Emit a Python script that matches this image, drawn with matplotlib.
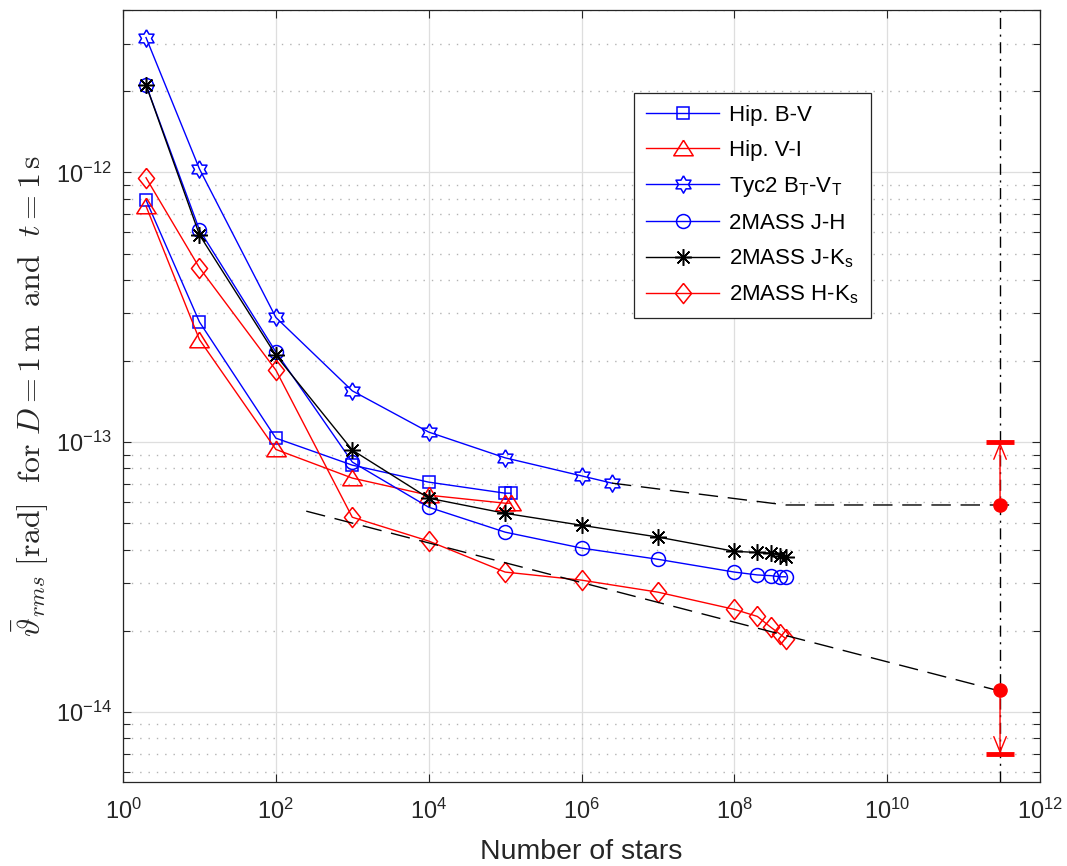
import numpy as np
import matplotlib
matplotlib.use("Agg")
import matplotlib.pyplot as plt
from matplotlib.ticker import (FixedLocator, LogFormatterSciNotation, LogLocator,
                               NullLocator, NullFormatter)

plt.rcParams["font.family"] = ["Liberation Sans", "DejaVu Sans"]
plt.rcParams["axes.unicode_minus"] = False

# --- data ---
n_hip = [2, 10, 100, 1e3, 1e4, 1e5, 1.18e5]
hip_bv = [7.9e-13, 2.79e-13, 1.035e-13, 8.22e-14, 7.11e-14, 6.47e-14, 6.47e-14]
hip_vi = [7.5e-13, 2.4e-13, 9.4e-14, 7.36e-14, 6.36e-14, 5.94e-14, 5.94e-14]

n_tyc = [2, 10, 100, 1e3, 1e4, 1e5, 1e6, 2.5e6]
tyc_bv = [3.16e-12, 1.03e-12, 2.9e-13, 1.55e-13, 1.09e-13, 8.75e-14, 7.5e-14, 7.05e-14]

n_2mass = [2, 10, 100, 1e3, 1e4, 1e5, 1e6, 1e7, 1e8, 2e8, 3e8, 4e8, 4.7e8]
mass_jh = [2.11e-12, 6.12e-13, 2.16e-13, 8.44e-14, 5.74e-14, 4.64e-14, 4.05e-14,
           3.68e-14, 3.3e-14, 3.22e-14, 3.2e-14, 3.17e-14, 3.17e-14]
mass_jk = [2.11e-12, 5.87e-13, 2.1e-13, 9.35e-14, 6.2e-14, 5.45e-14, 4.92e-14,
           4.45e-14, 3.94e-14, 3.9e-14, 3.88e-14, 3.8e-14, 3.75e-14]
mass_hk = [9.55e-13, 4.43e-13, 1.85e-13, 5.27e-14, 4.3e-14, 3.3e-14, 3.08e-14,
           2.78e-14, 2.4e-14, 2.26e-14, 2.06e-14, 1.94e-14, 1.87e-14]

# extrapolations to the galaxy
tyc_trend_n = [2.5e6, 4.7e8, 4e11]
tyc_trend_v = [7.05e-14, 5.85e-14, 5.85e-14]
mass_trend_n = [2.5e2, 4e11]
mass_trend_v = [5.55e-14, 1.17e-14]

n_galaxy = 3e11
galaxy_est = [5.85e-14, 1.21e-14]
galaxy_bound = [1e-13, 7e-15]

x_ticks = [1e0, 1e2, 1e4, 1e6, 1e8, 1e10, 1e12]
y_ticks = [1e-14, 1e-13, 1e-12]

# MATLAB-like markers
hexagram = [(np.cos(np.pi / 2 + k * np.pi / 6) * (1 if k % 2 == 0 else 0.577),
             np.sin(np.pi / 2 + k * np.pi / 6) * (1 if k % 2 == 0 else 0.577))
            for k in range(12)]
hexagram.append(hexagram[0])
triangle = [(0, 0.85), (-1, -0.75), (1, -0.75), (0, 0.85)]
diamond = [(0, 1), (0.8, 0), (0, -1), (-0.8, 0), (0, 1)]

fig = plt.figure(figsize=(10.67, 8.66), dpi=100)
ax = fig.add_axes([0.1153, 0.097, 0.8594, 0.8915])

common = dict(lw=1.0, mew=1.1, mfc="none")
ax.plot(n_hip, hip_bv, color="b", marker="s", ms=9, label="Hip. B-V", **common)
ax.plot(n_hip, hip_vi, color="r", marker=triangle, ms=14, label="Hip. V-I", **common)
ax.plot(n_tyc, tyc_bv, color="b", marker=hexagram, ms=12.5, label=r"Tyc2 B$_\mathregular{T}$-V$_\mathregular{T}$", **common)
ax.plot(n_2mass, mass_jh, color="b", marker="o", ms=10, label="2MASS J-H", **common)
ax.plot(n_2mass, mass_jk, color="k", marker=(8, 2, 0), ms=12, label=r"2MASS J-K$_\mathregular{s}$", **common)
ax.plot(n_2mass, mass_hk, color="r", marker=diamond, ms=14.5, label=r"2MASS H-K$_\mathregular{s}$", **common)

ax.plot(tyc_trend_n, tyc_trend_v, color="k", lw=1.0, dashes=(14, 7))
ax.plot(mass_trend_n, mass_trend_v, color="k", lw=1.0, dashes=(14, 7))
ax.axvline(n_galaxy, color="k", lw=1.0, dashes=(8, 4, 1.5, 4))

for est, bound in zip(galaxy_est, galaxy_bound):
    ax.annotate("", xy=(n_galaxy, bound), xytext=(n_galaxy, est),
                arrowprops=dict(arrowstyle="->,head_length=1.1,head_width=0.45",
                                color="r", lw=1.0, shrinkA=0, shrinkB=0))
ax.plot([n_galaxy] * 2, galaxy_bound, ls="none", marker="_", ms=19.5, mew=3.5, color="r")
ax.plot([n_galaxy] * 2, galaxy_est, ls="none", marker="o", ms=9.5, color="r")

ax.set_xscale("log")
ax.set_yscale("log")
ax.set_xlim(1, 1e12)
ax.set_ylim(5.5e-15, 4e-12)
ax.xaxis.set_major_locator(FixedLocator(x_ticks))
ax.xaxis.set_minor_locator(NullLocator())
ax.xaxis.set_major_formatter(LogFormatterSciNotation())
ax.yaxis.set_major_locator(FixedLocator(y_ticks))
ax.yaxis.set_minor_locator(LogLocator(base=10, subs=np.arange(2, 10)))
ax.yaxis.set_major_formatter(LogFormatterSciNotation())
ax.yaxis.set_minor_formatter(NullFormatter())

ax.grid(True, which="major", color="0.87", lw=0.9, ls="-")
ax.grid(True, which="minor", axis="y", color="0.7", lw=1.0, ls=(0, (1, 5)))
ax.set_axisbelow(True)

for sp in ax.spines.values():
    sp.set_color("0.15")
    sp.set_linewidth(0.9)
ax.tick_params(which="both", direction="in", top=True, right=True, colors="0.15",
               labelcolor="0.15", width=0.8)
ax.tick_params(which="major", length=6, labelsize=17, pad=8)
ax.tick_params(axis="x", which="major", pad=12)
ax.tick_params(which="minor", length=5)

ax.set_xlabel("Number of stars", fontsize=20.5, color="0.15", labelpad=11)
ax.set_ylabel(r"$\bar{\vartheta}_{rms}\ [\mathrm{rad}]\ \ \mathrm{for}\ D=1\,\mathrm{m}\ \ \mathrm{and}\ \ t=1\,\mathrm{s}$",
              fontsize=23, math_fontfamily="cm", color="0.15", labelpad=4)

leg = ax.legend(loc="upper left", bbox_to_anchor=(0.557, 0.8925), fontsize=16,
                frameon=True, fancybox=False, edgecolor="0.15", framealpha=1,
                borderaxespad=0, handlelength=3.3, handletextpad=0.45,
                labelspacing=0.62, borderpad=0.55)
leg.get_frame().set_linewidth(0.9)

fig.savefig("out.png", dpi=100)
